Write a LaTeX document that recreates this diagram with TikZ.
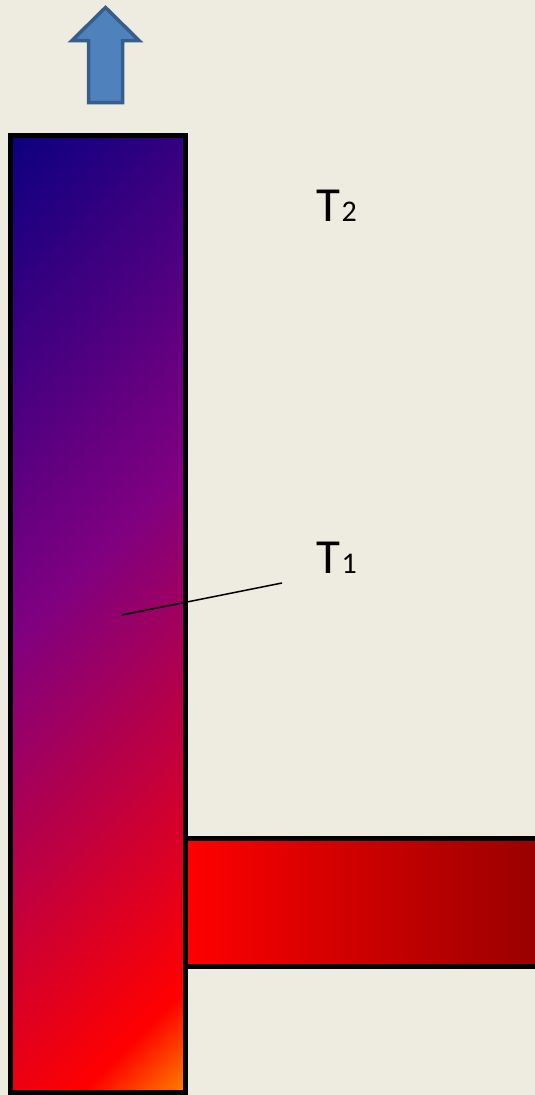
\documentclass[tikz,border=0pt]{standalone}
\usepackage{fontspec}
\newfontfamily\labfont{Carlito}
\definecolor{bg}{RGB}{238,236,225}
\definecolor{navyc}{RGB}{12,0,128}
\definecolor{purplec}{RGB}{128,0,128}
\definecolor{orangec}{RGB}{255,128,0}
\definecolor{darkredc}{RGB}{153,0,0}
\definecolor{arrowfill}{RGB}{79,129,189}
\definecolor{arrowline}{RGB}{56,93,138}
\pgfdeclarehorizontalshading{barshade}{100bp}{color(0bp)=(navyc); color(29.92bp)=(navyc); color(48bp)=(purplec); color(66.47bp)=(red); color(70.08bp)=(orangec); color(100bp)=(orangec)}
\begin{document}
\begin{tikzpicture}[x=1pt,y=-1pt,
  barline/.style={draw=black, line width=5pt},
  lab/.style={anchor=base west, inner sep=0pt, font=\labfont},
  upar/.style={fill=arrowfill, draw=arrowline, line width=3.5pt, line join=miter}]
\fill[bg] (0,0) rectangle (535,1095);
\useasboundingbox (0,0) rectangle (535,1095);
% vertical bar
\begin{scope}
\clip (10,135.5) rectangle (185.5,1092.5);
\shade[shading=barshade, shading angle=-45] (-402.25,114) rectangle (597.75,1114);
\end{scope}
\draw[barline] (10,135.5) rectangle (185.5,1092.5);
% horizontal bar
\shade[left color=red, right color=darkredc] (185.5,838.5) rectangle (540,966.5);
\draw[barline] (185.5,838.5) rectangle (540,966.5);
% arrow
\draw[upar] (105.5,7.5) -- (139,40.5) -- (122.5,40.5) -- (122.5,102.5) -- (88.5,102.5) -- (88.5,40.5) -- (72,40.5) -- cycle;
% labels
\node[lab] (t2) at (316,221.7) {\fontsize{49}{49}\selectfont T\kern1.5pt\fontsize{30}{30}\selectfont 2};
\node[lab] (t1) at (316,573.3) {\fontsize{49}{49}\selectfont T\kern1.5pt\fontsize{30}{30}\selectfont 1};
% pointer
\coordinate (p1) at (122,615);
\coordinate (p2) at (282,583);
\draw[line width=1.5pt] (p1) -- (p2);
\end{tikzpicture}
\end{document}
